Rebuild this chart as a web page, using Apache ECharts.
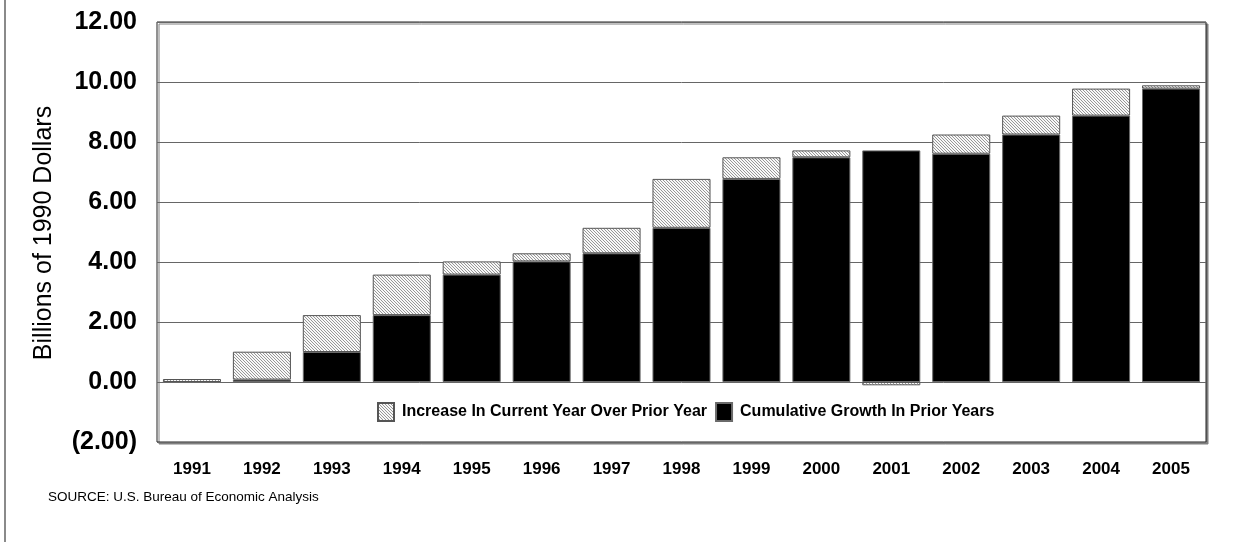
<!DOCTYPE html>
<html>
<head>
<meta charset="utf-8">
<style>
  html, body { margin: 0; padding: 0; background: #ffffff; }
  #chart { width: 1241px; height: 542px; }
</style>
<script src="https://cdn.jsdelivr.net/npm/echarts@6/dist/echarts.min.js"></script>
</head>
<body>
<div id="chart"></div>
<script>
// Years on the category axis
const years = ['1991', '1992', '1993', '1994', '1995', '1996', '1997', '1998',
               '1999', '2000', '2001', '2002', '2003', '2004', '2005'];

// Cumulative growth carried in from prior years (billions of 1990 dollars)
const priorGrowth = [0.00, 0.08, 1.00, 2.23, 3.58, 4.02, 4.29, 5.14,
                     6.77, 7.49, 7.72, 7.61, 8.25, 8.88, 9.78];

// Change in the current year over the prior year
const yearIncrease = [0.10, 0.93, 1.23, 1.35, 0.44, 0.27, 0.85, 1.63,
                      0.72, 0.23, -0.11, 0.64, 0.63, 0.90, 0.11];

// Value axis settings
const yMin = -2, yMax = 12, yStep = 2;

const seriesNames = ['Increase In Current Year Over Prior Year', 'Cumulative Growth In Prior Years'];

// Fine diagonal hatch used for the yearly increase
function makeHatch() {
  const n = 3;
  const c = document.createElement('canvas');
  c.width = n; c.height = n;
  const g = c.getContext('2d');
  g.fillStyle = '#f8f8f8';
  g.fillRect(0, 0, n, n);
  g.fillStyle = '#979797';
  for (let i = 0; i < n; i++) g.fillRect(i, i, 1, 1);
  return c;
}
const hatch = { image: makeHatch(), repeat: 'repeat' };

const font = '"Liberation Sans", Arial, Helvetica, sans-serif';

const chart = echarts.init(document.getElementById('chart'), null, { renderer: 'canvas' });

chart.setOption({
  backgroundColor: '#ffffff',
  animation: false,
  textStyle: { fontFamily: font, color: '#000' },
  grid: {
    left: 157, right: 35, top: 22, bottom: 100,
    show: true,
    backgroundColor: '#ffffff',
    borderColor: '#222',
    borderWidth: 1,
    shadowColor: '#808080',
    shadowBlur: 0,
    shadowOffsetX: 2,
    shadowOffsetY: 2
  },
  legend: {
    data: seriesNames,
    left: 372,
    top: 397,
    itemWidth: 16,
    itemHeight: 18,
    itemGap: 8,
    icon: 'rect',
    textStyle: { fontFamily: font, fontSize: 16, fontWeight: 'bold', color: '#000', padding: [0, 0, 0, 3] }
  },
  xAxis: {
    type: 'category',
    data: years,
    axisLine: { show: false },
    axisTick: { show: false },
    axisLabel: { fontFamily: font, fontSize: 17, fontWeight: 'bold', color: '#000', margin: 19 },
    splitLine: { show: false }
  },
  yAxis: {
    type: 'value',
    min: yMin, max: yMax, interval: yStep,
    axisLine: { show: false },
    axisTick: { show: false },
    axisLabel: {
      fontFamily: font, fontSize: 25, fontWeight: 'bold', color: '#000', margin: 20,
      formatter: v => v < 0 ? '(' + Math.abs(v).toFixed(2) + ')' : v.toFixed(2)
    },
    splitLine: { show: true, lineStyle: { color: '#666', width: 1 } }
  },
  series: [
    {
      name: seriesNames[1],
      type: 'bar',
      stack: 'total',
      data: priorGrowth,
      barCategoryGap: '17%',
      itemStyle: { color: '#000000', borderColor: '#6a6a6a', borderWidth: 1 }
    },
    {
      name: seriesNames[0],
      type: 'bar',
      stack: 'total',
      data: yearIncrease,
      barCategoryGap: '17%',
      itemStyle: { color: hatch, borderColor: '#555', borderWidth: 1 }
    }
  ],
  graphic: [
    {
      type: 'line',
      shape: { x1: 5, y1: 0, x2: 5, y2: 542 },
      style: { stroke: '#8a8a8a', lineWidth: 2 }
    },
    {
      type: 'text',
      x: 44, y: 233,
      rotation: Math.PI / 2,
      style: {
        text: 'Billions of 1990 Dollars',
        fontFamily: font, fontSize: 25, fill: '#000',
        textAlign: 'center', textVerticalAlign: 'middle'
      }
    },
    {
      type: 'text',
      x: 48, y: 497,
      style: {
        text: 'SOURCE: U.S. Bureau of Economic Analysis',
        fontFamily: font, fontSize: 13.5, fill: '#000',
        textAlign: 'left', textVerticalAlign: 'middle'
      }
    }
  ]
});
</script>
</body>
</html>
